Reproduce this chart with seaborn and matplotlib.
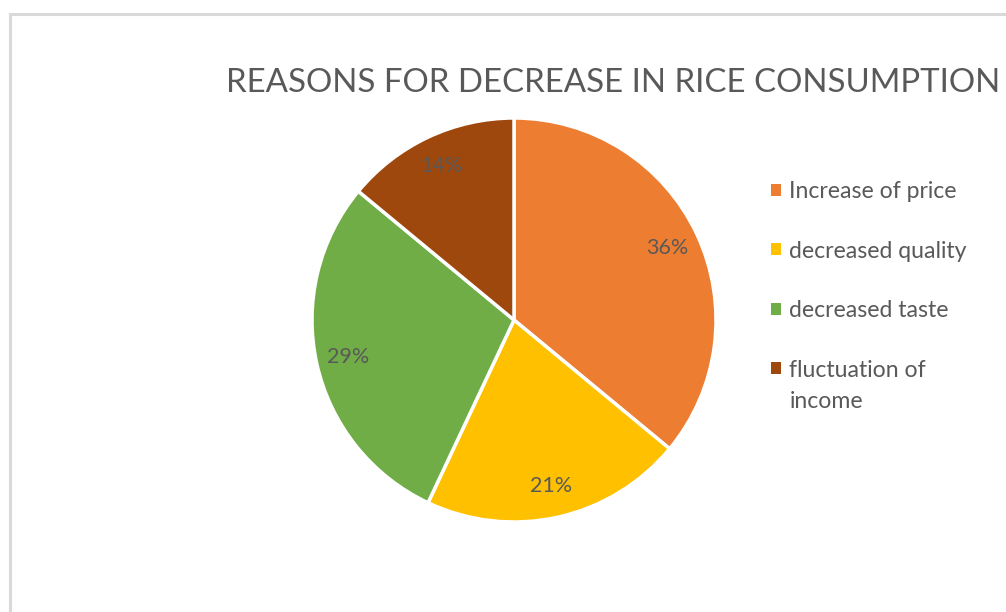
import matplotlib
matplotlib.use("Agg")
import matplotlib.pyplot as plt
from matplotlib.patches import Rectangle
import seaborn as sns

# data
reasons = ["Increase of price", "decreased quality", "decreased taste", "fluctuation of\nincome"]
shares = [36, 21, 29, 14]
slice_colors = ["#ED7D31", "#FFC000", "#70AD47", "#9E480E"]

sns.set_theme(style="white")
plt.rcParams['font.family'] = ['Lato', 'DejaVu Sans']
text_grey = "#595959"

fig = plt.figure(figsize=(10.06, 6.12), dpi=100)

# chart frame border (light grey, partly cut off like the screenshot)
fig.patches.append(Rectangle((9.5 / 1006, -0.1), 1.2, (612 - 13.5) / 612 + 0.1,
                             transform=fig.transFigure, fill=False,
                             edgecolor="#d9d9d9", linewidth=2.2))

fig.text(226 / 1006, 1 - 92 / 612, "REASONS FOR DECREASE IN RICE CONSUMPTION",
         fontsize=23.8, color=text_grey, ha="left", va="baseline")

# pie axes: centre (514, 320), radius ~202 px
r = 202
ax = fig.add_axes([(514 - r) / 1006, 1 - (320 + r) / 612, 2 * r / 1006, 2 * r / 612])
wedges, texts, autotexts = ax.pie(
    shares, colors=sns.color_palette(slice_colors), startangle=90, counterclock=False,
    autopct="%d%%", pctdistance=0.84, radius=1.0,
    wedgeprops=dict(edgecolor="white", linewidth=2.5),
    textprops=dict(color=text_grey, fontsize=15.5))
ax.set_xlim(-1.0, 1.0)
ax.set_ylim(-1.0, 1.0)
ax.set_aspect("auto")

leg = fig.legend(wedges, reasons, loc="upper left",
                 bbox_to_anchor=(771 / 1006, 1 - 181 / 612),
                 frameon=False, fontsize=16.6, labelcolor=text_grey,
                 handlelength=0.42, handleheight=0.42, handletextpad=0.38,
                 labelspacing=1.67, borderpad=0, borderaxespad=0)
for t in leg.get_texts():
    t.set_linespacing(1.6)
for h in leg.legend_handles:
    h.set_edgecolor("none")
# Excel puts the swatch next to the first line of a wrapped label
leg.legend_handles[-1].set_y(leg.legend_handles[-1].get_y() + 13.2)

plt.savefig("out.png", dpi=100)
